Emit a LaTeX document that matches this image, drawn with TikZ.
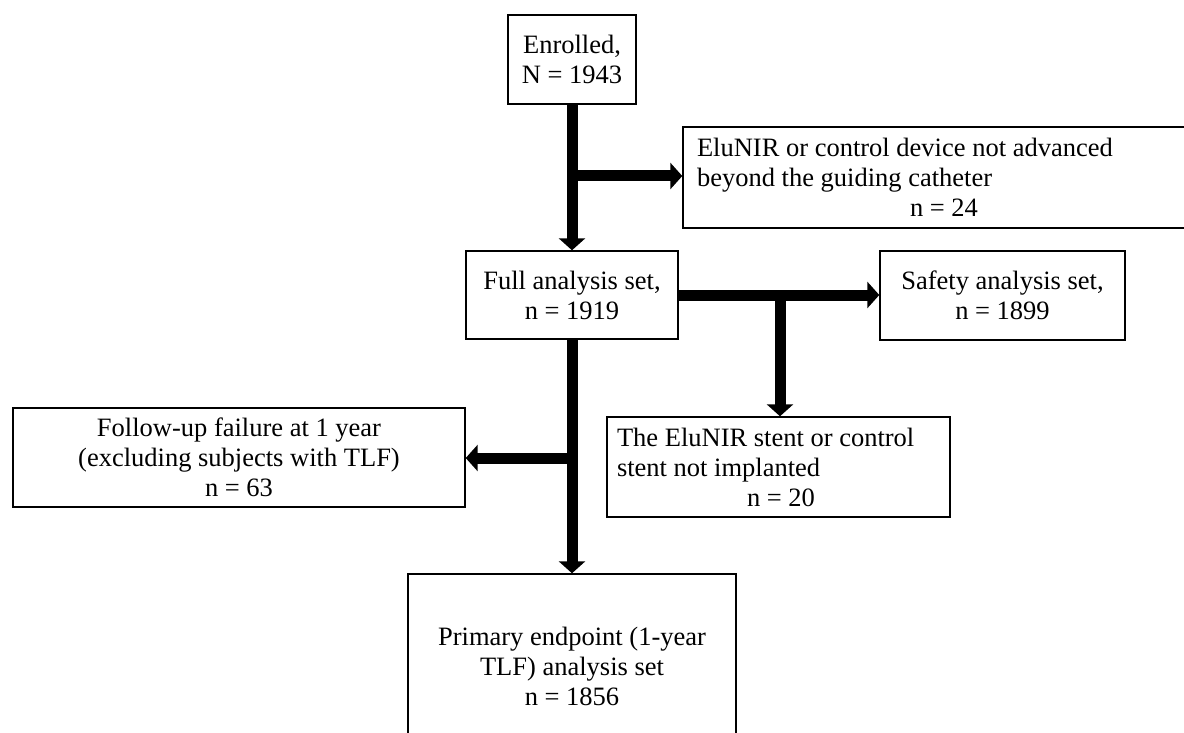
\documentclass[tikz,border=0pt]{standalone}
\usepackage{fontspec}
\setmainfont{Liberation Serif}
\usetikzlibrary{arrows.meta}
\newcommand{\fs}{\fontsize{13.25}{15}\selectfont}
\begin{document}
\begin{tikzpicture}[x=0.5pt,y=-0.5pt,
  box/.style={draw, line width=0.7pt, inner sep=0pt, font=\fs, align=center},
  lbox/.style={draw, line width=0.7pt, inner ysep=0pt, font=\fs, align=flush left},
  arr/.style={line width=5.5pt, -{Triangle[width=13pt,length=6pt]}}]
\clip (0,0) rectangle (1184,733);
\fill[white] (0,0) rectangle (1184,733);
\node[box, minimum width=64pt, minimum height=44.5pt] (enr) at (572,59.5) {Enrolled,\\N = 1943};
\node[lbox, inner xsep=7pt, text width=244.5pt, minimum height=50.5pt] (elu) at (941.5,177.5)
  {EluNIR or control device not advanced\\beyond the guiding catheter\\\hspace*{106.5pt}n = 24};
\node[box, minimum width=106pt, minimum height=44pt] (full) at (572,295) {Full analysis set,\\n = 1919};
\node[box, minimum width=122.5pt, minimum height=44.5pt] (safe) at (1002.5,295.5) {Safety analysis set,\\n = 1899};
\node[lbox, inner xsep=5pt, text width=161.5pt, minimum height=50pt] (impl) at (778.5,467)
  {The EluNIR stent or control\\stent not implanted\\\hspace*{65pt}n = 20};
\node[box, minimum width=226pt, minimum height=49.5pt] (fup) at (239,457.5)
  {Follow-up failure at 1 year\\(excluding subjects with TLF)\\n = 63};
\node[box, minimum width=164pt, minimum height=92pt] (prim) at (572,666)
  {Primary endpoint (1-year\\TLF) analysis set\\n = 1856};
\coordinate (j1) at (572,176);
\coordinate (j2) at (780,295);
\coordinate (j3) at (572,458);
\draw[arr] (enr.south) -- (full.north);
\draw[arr] (j1) -- (j1 -| elu.west);
\draw[arr] (full.east) -- (full.east -| safe.west);
\draw[arr] (j2) -- (j2 |- impl.north);
\draw[arr] (full.south) -- (prim.north);
\draw[arr] (j3) -- (j3 -| fup.east);
\end{tikzpicture}
\end{document}
